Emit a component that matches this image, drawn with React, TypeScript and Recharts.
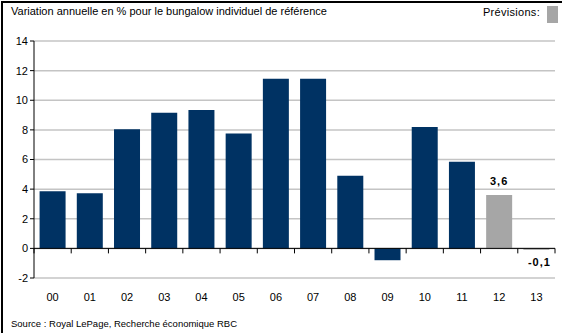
import { BarChart, Bar, XAxis, YAxis, CartesianGrid, ReferenceLine, Cell, LabelList } from 'recharts';

const years = ['00', '01', '02', '03', '04', '05', '06', '07', '08', '09', '10', '11', '12', '13'];
const changes = [3.85, 3.72, 8.05, 9.15, 9.35, 7.75, 11.45, 11.45, 4.9, -0.8, 8.2, 5.85, 3.6, -0.1];
const forecast = [false, false, false, false, false, false, false, false, false, false, false, false, true, true];
const yTicks = [-2, 0, 2, 4, 6, 8, 10, 12, 14];

const data = years.map((year, i) => ({ year, value: changes[i], forecast: forecast[i] }));

const NAVY = '#003263';
const GREY = '#a6a6a6';
const FONT = '"Liberation Sans", Arial, sans-serif';

const W = 571;
const H = 333;
const PLOT_LEFT = 34;
const PLOT_RIGHT = 555;
const PLOT_TOP = 41;
const PLOT_BOTTOM = 278;
const X_AXIS_H = 30;
const Y_MIN = -2;
const Y_MAX = 14;
const band = (PLOT_RIGHT - PLOT_LEFT) / years.length;
const zeroY = PLOT_TOP + ((Y_MAX - 0) / (Y_MAX - Y_MIN)) * (PLOT_BOTTOM - PLOT_TOP);

// category label plus the small tick marks that sit on the zero line
function YearTick(props: any) {
  const { x, payload, index } = props;
  return (
    <g>
      <line x1={x - band / 2} x2={x - band / 2} y1={zeroY} y2={zeroY + 5} stroke="#000" strokeWidth={1} />
      {index === years.length - 1 && (
        <line x1={x + band / 2} x2={x + band / 2} y1={zeroY} y2={zeroY + 5} stroke="#000" strokeWidth={1} />
      )}
      <text x={x} y={301} textAnchor="middle" fontSize={11} fontFamily={FONT} fill="#000">
        {payload.value}
      </text>
    </g>
  );
}

function ValueLabel(props: any) {
  const { x, y, width, height, index, value } = props;
  if (!forecast[index]) return null;
  const txt = value.toFixed(1).replace('.', ',');
  const neg = value < 0;
  const ty = neg ? y + height + 18 : y - 10;
  return (
    <text x={x + width / 2 + (neg ? 3 : 0)} y={ty} textAnchor="middle" fontSize={11} fontWeight="bold" fontFamily={FONT} fill="#000" letterSpacing={1}>
      {txt}
    </text>
  );
}

export default function App() {
  return (
    <div style={{ position: 'absolute', left: 0, top: 0, width: W, height: H, background: '#fff', fontFamily: FONT }}>
      <div style={{ position: 'absolute', left: 1, top: 1, width: 559, height: H, borderTop: '2px solid #000', borderLeft: '2px solid #000' }} />
      <div style={{ position: 'absolute', left: 11, top: 5, fontSize: 11, color: '#000' }}>
        Variation annuelle en % pour le bungalow individuel de référence
      </div>
      <div style={{ position: 'absolute', right: 31, top: 6, fontSize: 11, color: '#000', letterSpacing: 0.3 }}>Prévisions:</div>
      <div style={{ position: 'absolute', left: 547, top: 6, width: 11, height: 17, background: GREY }} />
      <BarChart
        width={W}
        height={H}
        data={data}
        margin={{ top: PLOT_TOP, right: W - PLOT_RIGHT, bottom: H - PLOT_BOTTOM - X_AXIS_H, left: 0 }}
        barCategoryGap="15%"
      >
        <CartesianGrid vertical={false} stroke="#c4c4c4" strokeWidth={1.5} />
        <XAxis dataKey="year" axisLine={false} tickLine={false} tick={<YearTick />} interval={0} height={X_AXIS_H} />
        <YAxis
          width={PLOT_LEFT}
          domain={[Y_MIN, Y_MAX]}
          ticks={yTicks}
          interval={0}
          axisLine={{ stroke: '#000', strokeWidth: 1 }}
          tickLine={{ stroke: '#000' }}
          tickSize={4}
          tick={{ fontSize: 11, fill: '#000', fontFamily: FONT }}
        />
        <Bar dataKey="value" isAnimationActive={false}>
          {data.map((d, i) => (
            <Cell key={i} fill={d.forecast ? GREY : NAVY} />
          ))}
          <LabelList dataKey="value" content={<ValueLabel />} />
        </Bar>
        <ReferenceLine y={0} stroke="#000" strokeWidth={1} />
      </BarChart>
      <div style={{ position: 'absolute', left: 11, top: 318, fontSize: 9.5, color: '#000' }}>
        Source : Royal LePage, Recherche économique RBC
      </div>
    </div>
  );
}
